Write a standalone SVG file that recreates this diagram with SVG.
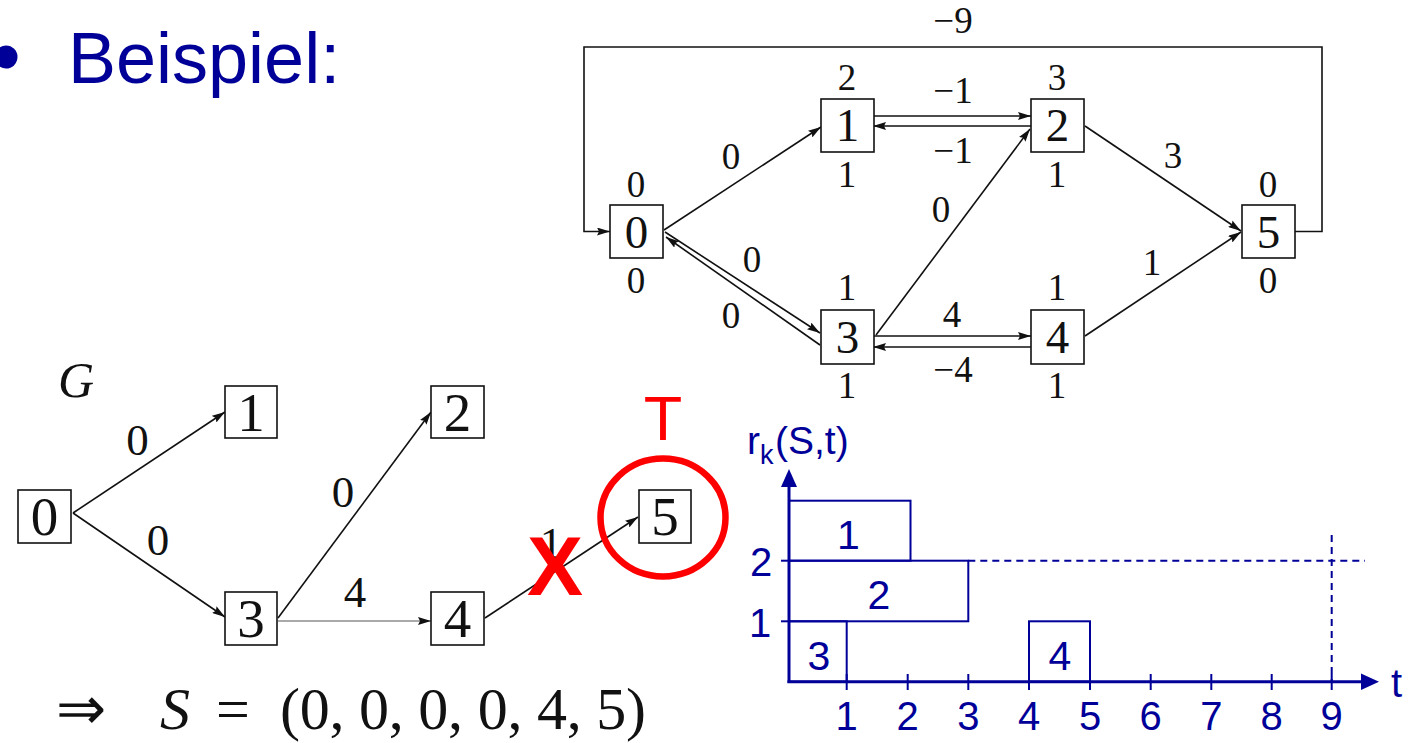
<svg xmlns="http://www.w3.org/2000/svg" width="1412" height="743" viewBox="0 0 1412 743">
<style>
.box{fill:#fff;stroke:#111;stroke-width:1.6}
.edge{fill:none;stroke:#111;stroke-width:1.6}
.nl{font-family:"Liberation Serif",serif;font-size:47px;fill:#111;text-anchor:middle}
.gl{font-family:"Liberation Serif",serif;font-size:55px;fill:#111;text-anchor:middle}
.lb{font-family:"Liberation Serif",serif;font-size:37px;fill:#111;text-anchor:middle}
.glb{font-family:"Liberation Serif",serif;font-size:45px;fill:#111;text-anchor:middle}
.blue{font-family:"Liberation Sans",Arial,sans-serif;fill:#000099}
.bl{fill:none;stroke:#000099;stroke-width:2}
.dash{fill:none;stroke:#000099;stroke-width:2;stroke-dasharray:7 5}
</style>
<defs>
<marker id="ah" viewBox="0 0 13 8" refX="13" refY="4" markerWidth="13" markerHeight="8" markerUnits="userSpaceOnUse" orient="auto">
<path d="M0,0 L13,4 L0,8 L2,4 z" fill="#111"/>
</marker>
</defs>
<rect width="1412" height="743" fill="#fff"/>

<!-- title -->
<g id="title">
<circle cx="6" cy="57" r="11.5" fill="#000099"/>
<text x="68" y="83" class="blue" font-size="72">Beispiel:</text>
</g>

<!-- top graph connectors -->
<g id="top-edges">
<path class="edge" d="M1294,231.5 H1322 V47 H584 V231.5 H610" marker-end="url(#ah)"/>
<line class="edge" x1="664" y1="230" x2="821" y2="127" marker-end="url(#ah)"/>
<line class="edge" x1="665" y1="232" x2="820" y2="333" marker-end="url(#ah)"/>
<line class="edge" x1="820" y1="345" x2="666" y2="237" marker-end="url(#ah)"/>
<line class="edge" x1="873" y1="116" x2="1031" y2="116" marker-end="url(#ah)"/>
<line class="edge" x1="1031" y1="126" x2="873" y2="126" marker-end="url(#ah)"/>
<line class="edge" x1="876" y1="335" x2="1030" y2="129" marker-end="url(#ah)"/>
<line class="edge" x1="1085" y1="126" x2="1241" y2="231" marker-end="url(#ah)"/>
<line class="edge" x1="873" y1="336" x2="1031" y2="336" marker-end="url(#ah)"/>
<line class="edge" x1="1031" y1="347" x2="873" y2="347" marker-end="url(#ah)"/>
<line class="edge" x1="1085" y1="336" x2="1241" y2="232" marker-end="url(#ah)"/>
</g>
<g id="top-edge-labels">
<text class="lb" x="953" y="33">−9</text>
<text class="lb" x="731" y="169">0</text>
<text class="lb" x="953" y="103">−1</text>
<text class="lb" x="953" y="163">−1</text>
<text class="lb" x="1173" y="168">3</text>
<text class="lb" x="941" y="222">0</text>
<text class="lb" x="752" y="272">0</text>
<text class="lb" x="731" y="328">0</text>
<text class="lb" x="952" y="327">4</text>
<text class="lb" x="953" y="382">−4</text>
<text class="lb" x="1152" y="275">1</text>
</g>

<!-- top graph nodes -->
<g id="t0"><rect class="box" x="610" y="205" width="53" height="53"/><text class="nl" x="636.5" y="248">0</text>
<text class="lb" x="636" y="197">0</text><text class="lb" x="636" y="293">0</text></g>
<g id="t1"><rect class="box" x="821" y="99" width="53" height="53"/><text class="nl" x="847.5" y="141">1</text>
<text class="lb" x="847" y="90">2</text><text class="lb" x="847" y="187">1</text></g>
<g id="t2"><rect class="box" x="1031" y="99" width="53" height="53"/><text class="nl" x="1057.5" y="141">2</text>
<text class="lb" x="1057" y="90">3</text><text class="lb" x="1057" y="187">1</text></g>
<g id="t3"><rect class="box" x="821" y="310" width="53" height="54"/><text class="nl" x="847.5" y="353">3</text>
<text class="lb" x="847" y="300">1</text><text class="lb" x="847" y="398">1</text></g>
<g id="t4"><rect class="box" x="1031" y="310" width="53" height="54"/><text class="nl" x="1057.5" y="353">4</text>
<text class="lb" x="1057" y="300">1</text><text class="lb" x="1057" y="398">1</text></g>
<g id="t5"><rect class="box" x="1242" y="205" width="53" height="53"/><text class="nl" x="1268.5" y="248">5</text>
<text class="lb" x="1268" y="197">0</text><text class="lb" x="1268" y="293">0</text></g>

<!-- graph G -->
<g id="g-label"><text x="58" y="397" font-family="Liberation Serif,serif" font-style="italic" font-size="50" fill="#111">G</text></g>
<g id="g-edges">
<line class="edge" x1="73" y1="513" x2="225" y2="412" marker-end="url(#ah)"/>
<line class="edge" x1="73" y1="513" x2="225" y2="617" marker-end="url(#ah)"/>
<line class="edge" x1="278" y1="618" x2="431" y2="412" marker-end="url(#ah)"/>
<line x1="278" y1="621" x2="431" y2="621" stroke="#555" stroke-width="1.2" marker-end="url(#ah)"/>
<line class="edge" x1="485" y1="618" x2="638" y2="517" marker-end="url(#ah)"/>
<text class="glb" x="137.5" y="455">0</text>
<text class="glb" x="158" y="555">0</text>
<text class="glb" x="343" y="507">0</text>
<text class="glb" x="355" y="607">4</text>
<text class="glb" x="551" y="558">1</text>
</g>
<g id="g0"><rect class="box" x="18" y="490" width="53" height="53"/><text class="gl" x="44.5" y="535">0</text></g>
<g id="g1"><rect class="box" x="225" y="386" width="52" height="52"/><text class="gl" x="251" y="431">1</text></g>
<g id="g2"><rect class="box" x="431" y="386" width="53" height="52"/><text class="gl" x="457.5" y="431">2</text></g>
<g id="g3"><rect class="box" x="225" y="592" width="52" height="53"/><text class="gl" x="251" y="637">3</text></g>
<g id="g4"><rect class="box" x="431" y="592" width="53" height="53"/><text class="gl" x="457.5" y="637">4</text></g>
<g id="g5"><rect class="box" x="639" y="490" width="52" height="53"/><text class="gl" x="665" y="535">5</text></g>

<!-- red annotations -->
<g id="red">
<text x="663" y="440" font-family="Liberation Sans,Arial,sans-serif" font-size="63" fill="#ff0000" text-anchor="middle">T</text>
<ellipse cx="663" cy="517.5" rx="62.5" ry="59" fill="none" stroke="#ff0000" stroke-width="6.5"/>
<text x="555" y="595" font-family="Liberation Sans,Arial,sans-serif" font-weight="bold" font-size="84" fill="#ff0000" text-anchor="middle">X</text>
</g>

<!-- formula -->
<g id="formula" font-family="Liberation Serif,serif" font-size="60" fill="#111">
<text x="56" y="729">⇒</text>
<text x="160" y="729" font-style="italic">S</text>
<text x="216" y="729">=</text>
<text x="280" y="729" textLength="366" lengthAdjust="spacing">(0, 0, 0, 0, 4, 5)</text>
</g>

<!-- resource chart -->
<g id="chart">
<rect class="bl" x="789" y="500.7" width="121.5" height="60"/>
<rect class="bl" x="789" y="560.7" width="179.3" height="60.6"/>
<rect class="bl" x="789" y="621.3" width="57.7" height="60.4"/>
<rect class="bl" x="1029" y="621.3" width="61" height="60.4"/>
<line class="dash" x1="968.3" y1="560.7" x2="1365" y2="560.7"/>
<line class="dash" x1="1331.7" y1="535" x2="1331.7" y2="681.7"/>
<line x1="789" y1="683" x2="789" y2="484" stroke="#000099" stroke-width="3"/>
<polygon points="789,469 781,487 797,487" fill="#000099"/>
<line x1="787.5" y1="681.7" x2="1363" y2="681.7" stroke="#000099" stroke-width="3"/>
<polygon points="1379,681.7 1361,673.5 1361,690" fill="#000099"/>
<line x1="781" y1="621.3" x2="789" y2="621.3" stroke="#000099" stroke-width="2"/>
<line x1="781" y1="560.7" x2="789" y2="560.7" stroke="#000099" stroke-width="2"/>
<g stroke="#000099" stroke-width="2">
<line x1="846.7" y1="674" x2="846.7" y2="690"/>
<line x1="907.7" y1="674" x2="907.7" y2="690"/>
<line x1="968.3" y1="674" x2="968.3" y2="690"/>
<line x1="1029" y1="674" x2="1029" y2="690"/>
<line x1="1090" y1="674" x2="1090" y2="690"/>
<line x1="1150.7" y1="674" x2="1150.7" y2="690"/>
<line x1="1211.3" y1="674" x2="1211.3" y2="690"/>
<line x1="1271.7" y1="674" x2="1271.7" y2="690"/>
<line x1="1331.7" y1="674" x2="1331.7" y2="690"/>
</g>
<g class="blue" font-size="41" text-anchor="middle">
<text x="848.5" y="549">1</text>
<text x="879" y="609">2</text>
<text x="819" y="670">3</text>
<text x="1060" y="670">4</text>
</g>
<g class="blue" font-size="40" text-anchor="middle">
<text x="846.7" y="730">1</text>
<text x="907.7" y="730">2</text>
<text x="968.3" y="730">3</text>
<text x="1029" y="730">4</text>
<text x="1090" y="730">5</text>
<text x="1150.7" y="730">6</text>
<text x="1211.3" y="730">7</text>
<text x="1271.7" y="730">8</text>
<text x="1331.7" y="730">9</text>
<text x="761" y="576">2</text>
<text x="760" y="637">1</text>
</g>
<text class="blue" x="1391" y="697" font-size="40">t</text>
<text class="blue" x="747" y="454" font-size="39">r<tspan x="760" y="464" font-size="27">k</tspan><tspan x="775" y="454">(S,t)</tspan></text>
</g>
</svg>
